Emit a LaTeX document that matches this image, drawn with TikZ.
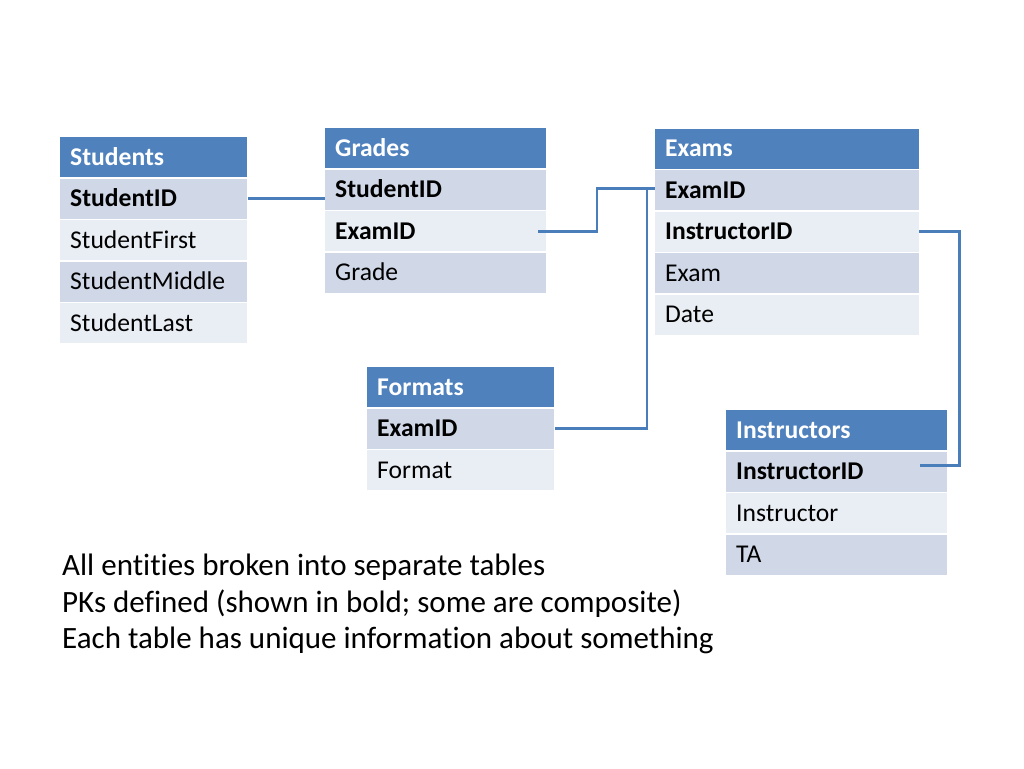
\documentclass[tikz,border=0pt]{standalone}
\usepackage{fontspec}
\setmainfont{Carlito}[Ligatures=NoCommon]
\definecolor{hdr}{HTML}{4F81BD}
\definecolor{rowdk}{HTML}{D0D8E8}
\definecolor{rowlt}{HTML}{E9EDF4}
\definecolor{lnk}{HTML}{4A7EBB}
\begin{document}
\begin{tikzpicture}[x=1pt,y=-1pt,
  cell/.style={rectangle, anchor=north west, inner xsep=10pt, inner ysep=0pt,
    text width=#1, align=left, minimum height=40pt, text height=16.5pt, text depth=0pt,
    font=\fontsize{25.6}{30}\selectfont},
  hd/.style={fill=hdr, text=white, font=\fontsize{25.6}{30}\selectfont\bfseries},
  dk/.style={fill=rowdk, text=black},
  lt/.style={fill=rowlt, text=black},
  pk/.style={font=\fontsize{25.6}{30}\selectfont\bfseries},
  link/.style={draw=lnk, line width=2.8pt},
  note/.style={anchor=base west, inner sep=0pt, font=\fontsize{31}{36.7}\selectfont}]
\useasboundingbox[fill=white] (0,0) rectangle (1024,768);

% Students
\node[cell=167pt, hd] (stu-h) at (60,137) {Students};
\node[cell=167pt, dk, pk] (stu-1) at (60,178.5) {StudentID};
\node[cell=167pt, lt] (stu-2) at (60,220) {StudentFirst};
\node[cell=167pt, dk] (stu-3) at (60,261.5) {StudentMiddle};
\node[cell=167pt, lt] (stu-4) at (60,303) {StudentLast};

% Grades
\node[cell=201pt, hd] (grd-h) at (325,128) {Grades};
\node[cell=201pt, dk, pk] (grd-1) at (325,169.5) {StudentID};
\node[cell=201pt, lt, pk] (grd-2) at (325,211) {ExamID};
\node[cell=201pt, dk] (grd-3) at (325,252.5) {Grade};

% Exams
\node[cell=244pt, hd] (exm-h) at (655,128.5) {Exams};
\node[cell=244pt, dk, pk] (exm-1) at (655,170) {ExamID};
\node[cell=244pt, lt, pk] (exm-2) at (655,211.5) {InstructorID};
\node[cell=244pt, dk] (exm-3) at (655,253) {Exam};
\node[cell=244pt, lt] (exm-4) at (655,294.5) {Date};

% Formats
\node[cell=167pt, hd] (fmt-h) at (367,367) {Formats};
\node[cell=167pt, dk, pk] (fmt-1) at (367,408.5) {ExamID};
\node[cell=167pt, lt] (fmt-2) at (367,450) {Format};

% Instructors
\node[cell=201pt, hd] (ins-h) at (726,410) {Instructors};
\node[cell=201pt, dk, pk] (ins-1) at (726,451.5) {InstructorID};
\node[cell=201pt, lt] (ins-2) at (726,493) {Instructor};
\node[cell=201pt, dk] (ins-3) at (726,534.5) {TA};

% connectors
\draw[link] ([xshift=1pt]stu-1.east) -- (stu-1.east -| grd-1.west);
\draw[link] ([xshift=-8pt]grd-2.east) -| ([xshift=-58pt,yshift=2pt]exm-1.west) -- ([yshift=2pt]exm-1.west);
\draw[link] ([xshift=1pt]fmt-1.east) -| ([xshift=-8pt,yshift=2pt]exm-1.west);
\draw[link] (exm-2.east) -- ++(40,0) |- ([xshift=-27pt,yshift=6pt]ins-1.east);

% notes
\node[note] (n1) at (62,575) {All entities broken into separate tables};
\node[note] (n2) at (62,612) {PKs defined (shown in bold; some are composite)};
\node[note] (n3) at (62,648) {Each table has unique information about something};
\end{tikzpicture}
\end{document}
